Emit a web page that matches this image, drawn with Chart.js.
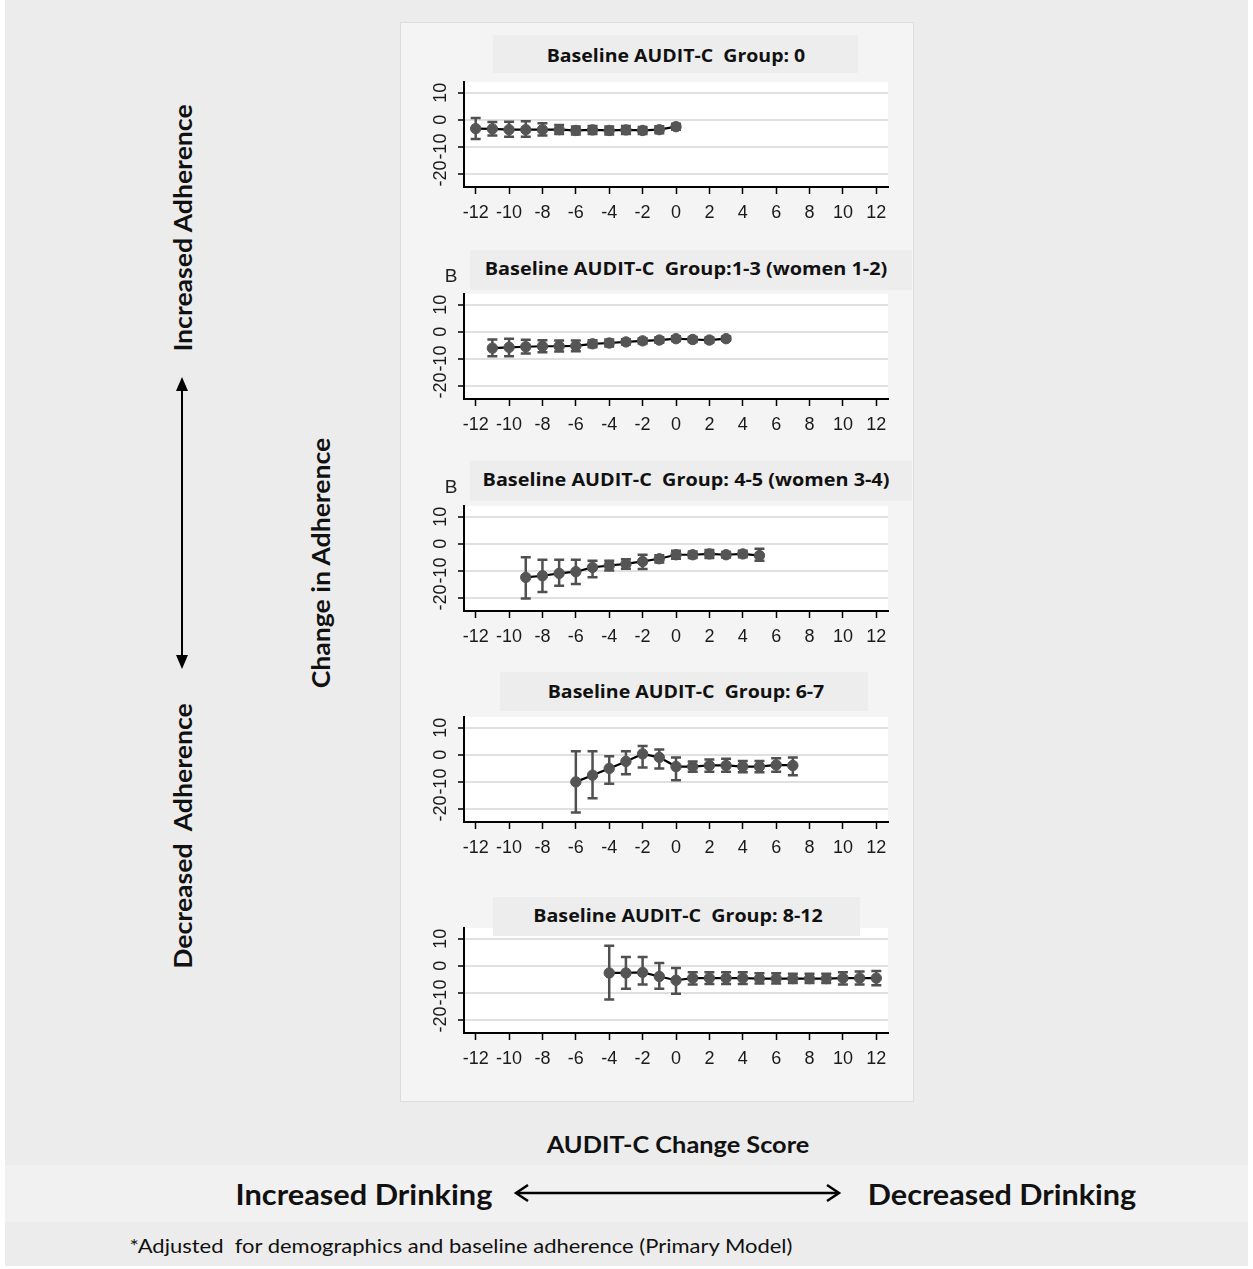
<!DOCTYPE html>
<html>
<head>
<meta charset="utf-8">
<script src="https://cdn.jsdelivr.net/npm/chart.js@4.4.0/dist/chart.umd.min.js"></script>
<style>
html,body{margin:0;padding:0;background:#ffffff;}
#page{position:relative;width:1253px;height:1269px;overflow:hidden;background:#ffffff;}
.blk{position:absolute;}
.txt{position:absolute;white-space:pre;color:#111;line-height:1;}
.wrap{position:absolute;}
</style>
</head>
<body>
<div id="page">
  <div class="blk" style="left:5px;top:0;width:1243px;height:1266px;background:#ececec;"></div>
  <div class="blk" style="left:5px;top:1165px;width:1243px;height:57px;background:#f1f1f1;"></div>
  <div class="blk" style="left:400px;top:22px;width:514px;height:1080px;background:#f4f4f4;border:1px solid #dddddd;box-sizing:border-box;"></div>
</div>
<script>
// ---------------- DATA ----------------
const xTicks = [-12, -10, -8, -6, -4, -2, 0, 2, 4, 6, 8, 10, 12];
const yTicks = [-20, -10, 0, 10];

const titles = [
  "Baseline AUDIT-C  Group: 0",
  "Baseline AUDIT-C  Group:1-3 (women 1-2)",
  "Baseline AUDIT-C  Group: 4-5 (women 3-4)",
  "Baseline AUDIT-C  Group: 6-7",
  "Baseline AUDIT-C  Group: 8-12"
];

// Group 0
const g0X    = [-12, -11, -10, -9, -8, -7, -6, -5, -4, -3, -2, -1, 0];
const g0Mean = [-3.3, -3.4, -3.7, -3.7, -3.7, -3.7, -4.0, -3.8, -4.0, -3.8, -4.0, -3.7, -2.6];
const g0Lo   = [-7.2, -5.9, -6.3, -6.3, -5.9, -5.3, -5.5, -5.3, -5.5, -5.3, -5.3, -5.0, -3.7];
const g0Hi   = [0.6, -0.9, -0.8, -0.6, -1.3, -2.0, -2.5, -2.3, -2.5, -2.3, -2.7, -2.4, -1.5];

// Group 1-3 (women 1-2)
const g1X    = [-11, -10, -9, -8, -7, -6, -5, -4, -3, -2, -1, 0, 1, 2, 3];
const g1Mean = [-6.1, -5.8, -5.6, -5.4, -5.4, -5.3, -4.5, -4.2, -3.8, -3.4, -3.1, -2.6, -2.9, -3.1, -2.6];
const g1Lo   = [-9.1, -9.1, -8.1, -7.6, -7.4, -7.3, -5.8, -5.5, -4.8, -4.4, -4.1, -3.5, -3.8, -4.0, -3.4];
const g1Hi   = [-2.9, -2.6, -3.0, -3.2, -3.3, -3.3, -3.2, -2.9, -2.8, -2.4, -2.1, -1.7, -2.0, -2.2, -1.8];

// Group 4-5 (women 3-4)
const g2X    = [-9, -8, -7, -6, -5, -4, -3, -2, -1, 0, 1, 2, 3, 4, 5];
const g2Mean = [-12.5, -11.9, -11.0, -10.4, -8.8, -8.1, -7.5, -6.6, -5.6, -4.1, -4.1, -3.8, -4.1, -3.8, -4.4];
const g2Lo   = [-20.4, -17.9, -15.6, -15.0, -12.5, -10.0, -9.3, -9.4, -7.0, -5.6, -5.3, -5.3, -5.1, -5.0, -6.3];
const g2Hi   = [-5.0, -6.0, -6.0, -6.0, -6.3, -6.3, -5.8, -4.1, -4.3, -2.6, -2.9, -2.3, -3.1, -2.6, -1.9];

// Group 6-7
const g3X    = [-6, -5, -4, -3, -2, -1, 0, 1, 2, 3, 4, 5, 6, 7];
const g3Mean = [-10.1, -7.6, -5.1, -2.5, 0.3, -1.0, -4.4, -4.4, -4.0, -4.0, -4.4, -4.4, -3.8, -4.0];
const g3Lo   = [-21.5, -16.2, -10.8, -7.3, -4.8, -5.1, -9.5, -6.3, -6.3, -6.3, -6.5, -6.5, -6.3, -7.6];
const g3Hi   = [1.3, 1.3, -0.6, 1.3, 3.2, 1.9, -1.0, -2.5, -1.8, -1.5, -2.3, -2.3, -1.3, -1.0];

// Group 8-12
const g4X    = [-4, -3, -2, -1, 0, 1, 2, 3, 4, 5, 6, 7, 8, 9, 10, 11, 12];
const g4Mean = [-2.7, -2.7, -2.5, -4.0, -5.4, -4.6, -4.6, -4.6, -4.6, -4.8, -4.8, -4.8, -4.8, -4.8, -4.6, -4.6, -4.6];
const g4Lo   = [-12.6, -8.6, -7.0, -8.6, -10.4, -7.0, -6.8, -6.8, -6.8, -6.6, -6.6, -6.4, -6.4, -6.4, -7.0, -7.0, -7.3];
const g4Hi   = [7.4, 3.2, 3.2, 1.0, -0.9, -2.4, -2.4, -2.4, -2.4, -2.8, -2.8, -3.0, -3.0, -3.0, -2.4, -2.2, -2.0];

// ---------------- LAYOUT ----------------
const page = document.getElementById('page');
const X_MIN = -12.7, X_MAX = 12.7, Y_MIN = -25, Y_MAX = 14;
const plotTops = [82, 294, 506, 717, 928];
const PLOT_H = 105, PAD_TOP = 10, AXIS_H = 44, CANVAS_W = 510, Y_AXIS_W = 64, PAD_RIGHT = 22;

const bgPlugin = {
  id: 'bg',
  beforeDraw(chart) {
    const a = chart.chartArea, c = chart.ctx;
    c.save(); c.fillStyle = '#ffffff';
    c.fillRect(a.left, a.top, a.right - a.left, a.bottom - a.top);
    c.restore();
  }
};
const yLabelPlugin = {
  id: 'ylab',
  afterDraw(chart) {
    const ys = chart.scales.y, c = chart.ctx;
    c.save();
    c.fillStyle = '#1a1a1a';
    c.font = '18px "Liberation Sans", Arial, sans-serif';
    c.textAlign = 'center'; c.textBaseline = 'middle';
    yTicks.forEach(v => {
      const py = ys.getPixelForValue(v);
      c.save(); c.translate(41, py); c.rotate(-Math.PI / 2);
      c.fillText(String(v), 0, 0);
      c.restore();
    });
    c.restore();
  }
};
function errPluginFor(xs, lo, hi) {
  return {
    id: 'err',
    beforeDatasetsDraw(chart) {
      const sx = chart.scales.x, sy = chart.scales.y, c = chart.ctx;
      c.save(); c.strokeStyle = '#505050'; c.lineWidth = 2.5;
      xs.forEach((x, i) => {
        const px = sx.getPixelForValue(x);
        const t = sy.getPixelForValue(hi[i]), b = sy.getPixelForValue(lo[i]);
        c.beginPath();
        c.moveTo(px, t); c.lineTo(px, b);
        c.moveTo(px - 5, t); c.lineTo(px + 5, t);
        c.moveTo(px - 5, b); c.lineTo(px + 5, b);
        c.stroke();
      });
      c.restore();
    }
  };
}

function makePanel(k, xs, mean, lo, hi) {
  const top = plotTops[k] - PAD_TOP;
  const H = PAD_TOP + PLOT_H + AXIS_H;
  const w = document.createElement('div');
  w.className = 'wrap';
  w.style.left = '400px'; w.style.top = top + 'px';
  w.style.width = CANVAS_W + 'px'; w.style.height = H + 'px';
  const cv = document.createElement('canvas');
  cv.width = CANVAS_W; cv.height = H;
  cv.style.width = CANVAS_W + 'px'; cv.style.height = H + 'px';
  w.appendChild(cv); page.appendChild(w);
  new Chart(cv, {
    type: 'line',
    data: {
      datasets: [{
        data: xs.map((x, i) => ({ x: x, y: mean[i] })),
        borderColor: '#000000', borderWidth: 2.2, tension: 0,
        pointRadius: 5.2, pointBackgroundColor: '#555555', pointBorderColor: '#555555',
        pointBorderWidth: 1, clip: false
      }]
    },
    options: {
      responsive: false, maintainAspectRatio: false, animation: false,
      layout: { padding: { top: PAD_TOP, right: PAD_RIGHT, left: 0, bottom: 0 } },
      plugins: { legend: { display: false }, tooltip: { enabled: false }, title: { display: false } },
      scales: {
        x: {
          type: 'linear', min: X_MIN, max: X_MAX,
          afterBuildTicks: s => { s.ticks = xTicks.map(v => ({ value: v })); },
          afterFit: s => { s.height = AXIS_H; },
          grid: { drawOnChartArea: false, drawTicks: true, tickLength: 7, tickColor: '#000', tickWidth: 1.5 },
          border: { color: '#000', width: 2 },
          ticks: { color: '#1a1a1a', font: { family: '"Liberation Sans", Arial, sans-serif', size: 18 },
                   padding: 8, maxRotation: 0, minRotation: 0, autoSkip: false }
        },
        y: {
          type: 'linear', min: Y_MIN, max: Y_MAX,
          afterBuildTicks: s => { s.ticks = yTicks.map(v => ({ value: v })); },
          afterFit: s => { s.width = Y_AXIS_W; },
          grid: { color: '#e0e0e0', lineWidth: 2, drawTicks: true, tickLength: 6, tickColor: '#000', tickWidth: 1.5 },
          border: { color: '#000', width: 2 },
          ticks: { display: false }
        }
      }
    },
    plugins: [bgPlugin, errPluginFor(xs, lo, hi), yLabelPlugin]
  });
}

makePanel(0, g0X, g0Mean, g0Lo, g0Hi);
makePanel(1, g1X, g1Mean, g1Lo, g1Hi);
makePanel(2, g2X, g2Mean, g2Lo, g2Hi);
makePanel(3, g3X, g3Mean, g3Lo, g3Hi);
makePanel(4, g4X, g4Mean, g4Lo, g4Hi);

// title bands
const bands = [[493, 35, 365, 38], [470, 250, 442, 40], [470, 461, 442, 40], [500, 672, 368, 39], [493, 897, 367, 39]];
bands.forEach(b => {
  const d = document.createElement('div');
  d.className = 'blk';
  d.style.cssText = `left:${b[0]}px;top:${b[1]}px;width:${b[2]}px;height:${b[3]}px;background:#ededed;z-index:2;`;
  page.appendChild(d);
});

// text placement helper: centered at (cx, cy), fitted to width
function place(text, cx, cy, width, font, rot, color) {
  const s = document.createElement('span');
  s.className = 'txt';
  s.textContent = text;
  s.style.font = font;
  s.style.zIndex = 3;
  if (color) s.style.color = color;
  page.appendChild(s);
  const w0 = s.offsetWidth;
  const sc = width ? width / w0 : 1;
  s.style.left = cx + 'px'; s.style.top = cy + 'px';
  s.style.transformOrigin = '50% 50%';
  s.style.transform = `translate(-50%,-50%) ${rot ? 'rotate(-90deg)' : ''} scale(${sc},1)`;
}

const titleFont = 'bold 17px "Open Sans", "DejaVu Sans", sans-serif';
const titleGeo = [[676, 55, 258], [686, 268, 402], [686, 479, 407], [686, 691, 277], [678, 915, 289]];
titles.forEach((t, i) => place(t, titleGeo[i][0], titleGeo[i][1], titleGeo[i][2], titleFont, false, '#111'));
place('B', 451, 276, 0, '19px "Liberation Sans", Arial, sans-serif', false, '#222');
place('B', 451, 487, 0, '19px "Liberation Sans", Arial, sans-serif', false, '#222');

const lbl = 'bold 24px Lato, "Open Sans", sans-serif';
place('Increased Adherence', 182, 228, 247, lbl, true);
place('Decreased  Adherence', 182, 836, 265, lbl, true);
place('Change in Adherence', 320, 563, 250, lbl, true);
place('AUDIT-C Change Score', 678, 1144, 263, 'bold 23px Lato, "Open Sans", sans-serif', false);
place('Increased Drinking', 364, 1193, 257, 'bold 29px Lato, "Open Sans", sans-serif', false);
place('Decreased Drinking', 1002, 1193, 269, 'bold 29px Lato, "Open Sans", sans-serif', false);
place('*Adjusted  for demographics and baseline adherence (Primary Model)', 461, 1245, 663, '19px Lato, "Open Sans", sans-serif', false);

// arrows
const svgNS = 'http://www.w3.org/2000/svg';
const svg = document.createElementNS(svgNS, 'svg');
svg.setAttribute('width', '1253'); svg.setAttribute('height', '1269');
svg.style.cssText = 'position:absolute;left:0;top:0;z-index:4;';
svg.innerHTML =
  '<line x1="182" y1="388" x2="182" y2="658" stroke="#000" stroke-width="2"/>' +
  '<polygon points="182,377 176,391 188,391" fill="#000"/>' +
  '<polygon points="182,669 176,655 188,655" fill="#000"/>' +
  '<line x1="517" y1="1193" x2="838" y2="1193" stroke="#000" stroke-width="2.5"/>' +
  '<polyline points="528,1185 516,1193 528,1201" fill="none" stroke="#000" stroke-width="2.5"/>' +
  '<polyline points="827,1185 839,1193 827,1201" fill="none" stroke="#000" stroke-width="2.5"/>';
page.appendChild(svg);
</script>
</body>
</html>
